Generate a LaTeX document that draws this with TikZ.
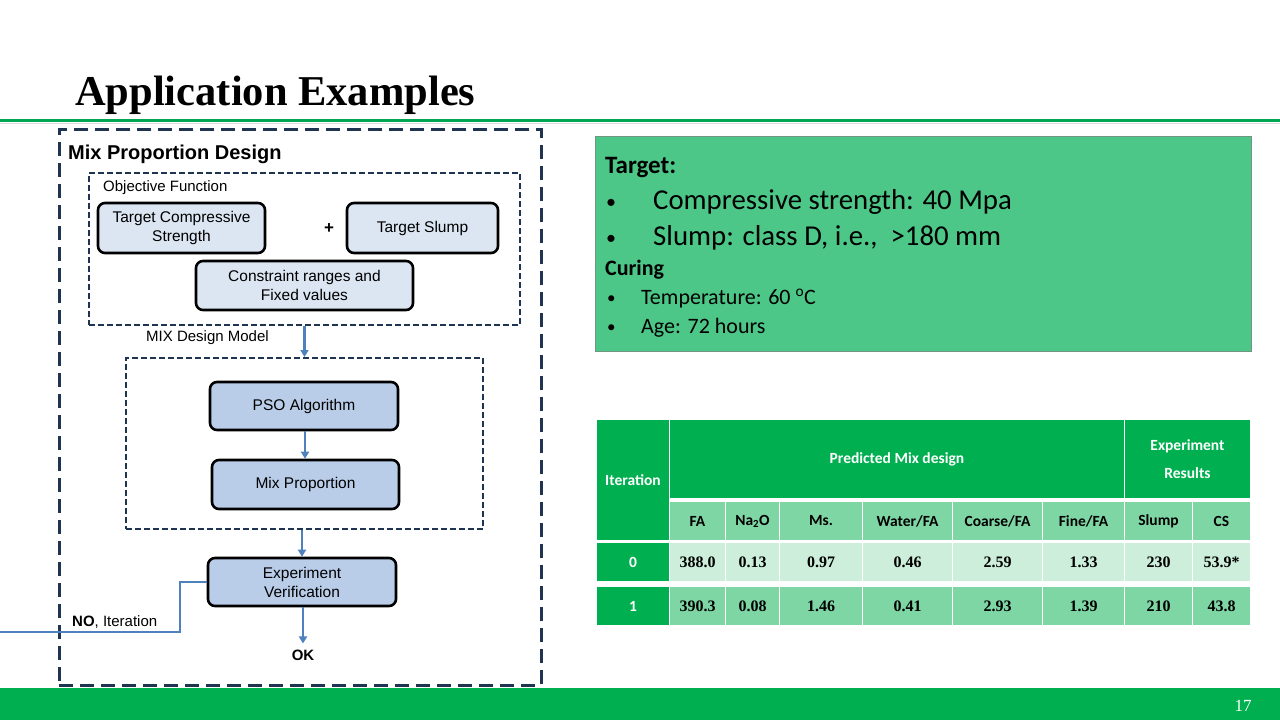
\documentclass[tikz,border=0pt]{standalone}
\usepackage{fontspec}
\setmainfont{Liberation Serif}
\setsansfont{Liberation Sans}
\newfontfamily\calfont{Carlito}
\usetikzlibrary{arrows.meta}
\definecolor{navy}{RGB}{31,52,80}
\definecolor{boxlight}{RGB}{220,230,242}
\definecolor{boxblue}{RGB}{185,205,233}
\definecolor{arrowblue}{RGB}{79,129,189}
\definecolor{gdark}{RGB}{0,176,80}
\definecolor{gline}{RGB}{0,166,81}
\definecolor{gpanel}{RGB}{77,199,135}
\definecolor{gborder}{RGB}{110,150,130}
\definecolor{gmid}{RGB}{127,214,165}
\definecolor{glight}{RGB}{204,238,219}
\newcommand{\tcell}[7]{\node[cellbase,#5,minimum width={#3-#1},minimum height={#4-#2},anchor=north west] (#6) at (#1,#2) {#7};}
\begin{document}
\begin{tikzpicture}[x=1pt,y=-1pt,
  outerdash/.style={draw=navy,line width=2.5pt,dash pattern=on 14pt off 7pt,inner sep=0},
  innerdash/.style={draw=navy,line width=2pt,dash pattern=on 6pt off 3pt,inner sep=0},
  flowbox/.style={draw=black,line width=2.6pt,rounded corners=7pt,fill=boxlight,align=center,inner sep=0,
    font=\sffamily\fontsize{15.5}{19}\selectfont},
  bluebox/.style={flowbox,fill=boxblue},
  lbl/.style={anchor=base west,inner sep=0,font=\sffamily\fontsize{15}{18}\selectfont},
  flowarrow/.style={draw=arrowblue,line width=2.6pt,-{Triangle[length=7pt,width=8pt]}},
  cellbase/.style={draw=white,line width=1pt,inner sep=0,align=center},
  hdr/.style={fill=gdark,text=white,font=\calfont\bfseries\fontsize{15.5}{28}\selectfont},
  sub/.style={fill=gmid,text=black,font=\calfont\bfseries\fontsize{15.5}{18}\selectfont},
  dl/.style={fill=glight,text=black,font=\bfseries\fontsize{16}{18}\selectfont},
  dm/.style={fill=gmid,text=black,font=\bfseries\fontsize{16}{18}\selectfont},
  panel/.style={anchor=base west,inner sep=0,font=\calfont\fontsize{28.8}{32}\selectfont},
  bigdot/.style={anchor=base west,inner sep=0,font=\calfont\fontsize{20}{24}\selectfont},
  smalldot/.style={anchor=base west,inner sep=0,font=\calfont\fontsize{17}{20}\selectfont}]
\useasboundingbox (0,0) rectangle (1280,720);
% title and bars
\node[anchor=base west,inner sep=0,font=\bfseries\fontsize{42.5}{48}\selectfont] (title) at (75,105) {Application Examples};
\draw[gline,line width=3pt] (0,120.5) -- (1280,120.5);
\draw[black!15,line width=1pt] (0,123) -- (1280,123);
\fill[gdark] (0,688) rectangle (1280,720);
\node[text=white,inner sep=0,font=\fontsize{17}{20}\selectfont] (pagenum) at (1243,706) {17};
% left flow chart
\node[outerdash,minimum width=482,minimum height=556,anchor=north west] (outer) at (58,128) {};
\node[anchor=base west,inner sep=0,font=\sffamily\bfseries\fontsize{20}{24}\selectfont] (mpd) at (68,159) {Mix Proportion Design};
\node[innerdash,minimum width=431,minimum height=152,anchor=north west] (obj) at (88,172) {};
\node[lbl] (objlbl) at (103,191.5) {Objective Function};
\node[flowbox,minimum width=167,minimum height=50] (tcs) at (181.5,228) {Target Compressive\\Strength};
\node[inner sep=0,font=\sffamily\bfseries\fontsize{17}{20}\selectfont] (plus) at (329,229) {+};
\node[flowbox,minimum width=151,minimum height=50] (tsl) at (422.5,228) {Target Slump};
\node[flowbox,minimum width=217,minimum height=49] (cons) at (304.5,285.5) {Constraint ranges and\\Fixed values};
\node[lbl] (mdmlbl) at (146,341.5) {MIX Design Model};
\node[innerdash,minimum width=357,minimum height=171,anchor=north west] (mdm) at (125,357) {};
\node[bluebox,minimum width=188,minimum height=48] (pso) at (304,406) {PSO Algorithm};
\node[bluebox,minimum width=187,minimum height=49] (mixp) at (305.5,484.5) {Mix Proportion};
\node[bluebox,minimum width=188,minimum height=48] (exp) at (302,582) {Experiment\\Verification};
\node[inner sep=0,font=\sffamily\bfseries\fontsize{15}{18}\selectfont] (ok) at (303,655) {OK};
\node[lbl] (nolbl) at (72,626.5) {\textbf{NO}, Iteration};
\coordinate (loopend) at (0,632);
\draw[flowarrow] (obj.south) -- (mdm.north);
\draw[flowarrow] (pso.south -| 305,0) -- (mixp.north -| 305,0);
\draw[flowarrow] (mdm.south -| exp.north) -- (exp.north);
\draw[flowarrow] (exp.south -| ok.north) -- ([yshift=6pt]ok.north);
\draw[draw=arrowblue,line width=2.6pt] (exp.west) -- (180,582) -- (180,632) -- (loopend);
% green panel
\node[fill=gpanel,draw=gborder,line width=1.2pt,minimum width=656,minimum height=215,anchor=north west,inner sep=0] (gp) at (595,136) {};
\node[panel,font=\calfont\bfseries\fontsize{25}{30}\selectfont] (ptarget) at (605,173) {Target:};
\node[bigdot] (pb1) at (606,208) {•};
\node[panel] (pcs) at (653,209) {Compressive strength: 40 Mpa};
\node[bigdot] (pb2) at (606,244) {•};
\node[panel] (psl) at (653,245) {Slump: class D, i.e.,\ \ >180 mm};
\node[panel,font=\calfont\bfseries\fontsize{22}{26}\selectfont] (pcur) at (605,275) {Curing};
\node[smalldot] (pb3) at (607,303) {•};
\node[panel,font=\calfont\fontsize{22}{26}\selectfont] (ptemp) at (641,304) {Temperature: 60 \textsuperscript{o}C};
\node[smalldot] (pb4) at (607,332) {•};
\node[panel,font=\calfont\fontsize{22}{26}\selectfont] (page) at (641,333) {Age: 72 hours};
% table
\tcell{596}{419}{669}{540}{hdr}{citer}{Iteration}
\tcell{669}{419}{1124}{498}{hdr}{cpred}{Predicted Mix design}
\tcell{1124}{419}{1250}{498}{hdr}{cexpr}{Experiment\\Results}
\tcell{669}{501}{725}{540}{sub}{sfa}{FA}
\tcell{725}{501}{779}{540}{sub}{sna}{Na\textsubscript{2}O}
\tcell{779}{501}{862}{540}{sub}{sms}{Ms.}
\tcell{862}{501}{952}{540}{sub}{swa}{Water/FA}
\tcell{952}{501}{1042}{540}{sub}{sco}{Coarse/FA}
\tcell{1042}{501}{1124}{540}{sub}{sfi}{Fine/FA}
\tcell{1124}{501}{1192}{540}{sub}{ssl}{Slump}
\tcell{1192}{501}{1250}{540}{sub}{scs}{CS}
\tcell{596}{542}{669}{581}{hdr}{ai}{0}
\tcell{669}{542}{725}{581}{dl}{afa}{388.0}
\tcell{725}{542}{779}{581}{dl}{ana}{0.13}
\tcell{779}{542}{862}{581}{dl}{ams}{0.97}
\tcell{862}{542}{952}{581}{dl}{awa}{0.46}
\tcell{952}{542}{1042}{581}{dl}{aco}{2.59}
\tcell{1042}{542}{1124}{581}{dl}{afi}{1.33}
\tcell{1124}{542}{1192}{581}{dl}{asl}{230}
\tcell{1192}{542}{1250}{581}{dl}{acs}{53.9*}
\tcell{596}{586}{669}{625}{hdr}{bi}{1}
\tcell{669}{586}{725}{625}{dm}{bfa}{390.3}
\tcell{725}{586}{779}{625}{dm}{bna}{0.08}
\tcell{779}{586}{862}{625}{dm}{bms}{1.46}
\tcell{862}{586}{952}{625}{dm}{bwa}{0.41}
\tcell{952}{586}{1042}{625}{dm}{bco}{2.93}
\tcell{1042}{586}{1124}{625}{dm}{bfi}{1.39}
\tcell{1124}{586}{1192}{625}{dm}{bsl}{210}
\tcell{1192}{586}{1250}{625}{dm}{bcs}{43.8}
\end{tikzpicture}
\end{document}
